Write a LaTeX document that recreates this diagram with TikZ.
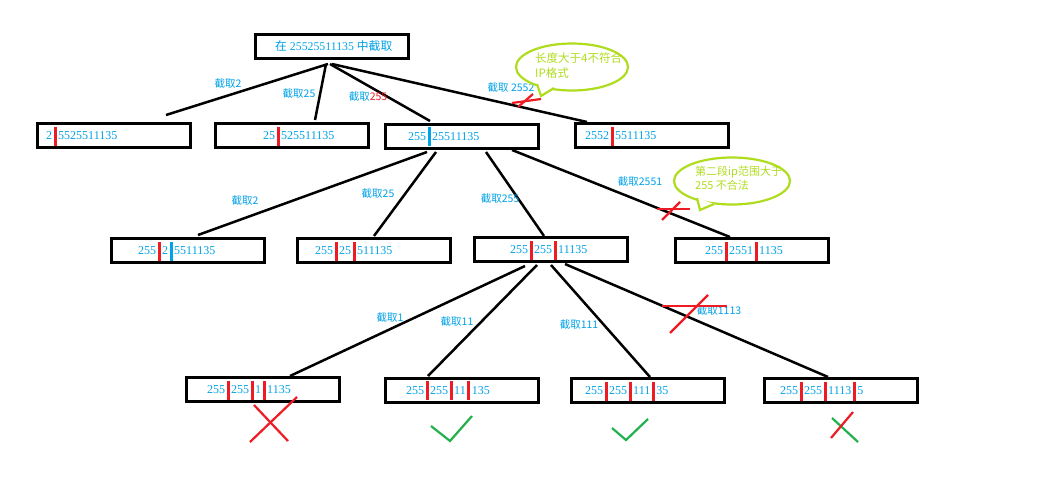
\documentclass[tikz,border=0pt]{standalone}
\usepackage{fontspec}
\setmainfont{Liberation Serif}
\newfontfamily\cjk{Noto Sans CJK SC}
\usetikzlibrary{shapes.geometric}
\definecolor{tblue}{HTML}{00A2E8}
\definecolor{tred}{HTML}{ED1C24}
\definecolor{tgreen}{HTML}{22B14C}
\definecolor{tlime}{HTML}{B0DC1E}
\newcommand\rbar{\hspace{1.6pt}\textcolor{tred}{\rule[-6pt]{2.8pt}{19pt}}\hspace{1.6pt}}
\newcommand\bbar{\hspace{1.6pt}\textcolor{tblue}{\rule[-6pt]{2.8pt}{19pt}}\hspace{1.6pt}}
\tikzset{
  box/.style={draw=black, line width=3pt, minimum width=153pt, minimum height=24pt, inner sep=0pt},
  boxtext/.style={anchor=base west, inner sep=0pt, text=tblue, font=\fontsize{12}{14}\selectfont},
  lbl/.style={inner sep=0pt, text=tblue, font=\cjk\fontsize{10.5}{12}\selectfont},
  edge/.style={draw=black, line width=2.5pt},
  redx/.style={draw=tred, line width=2.2pt},
  grn/.style={draw=tgreen, line width=2.2pt},
  bubble/.style={draw=tlime, line width=2.2pt, ellipse, fill=white, minimum width=112pt, minimum height=47pt, inner sep=0pt},
  btext/.style={anchor=north west, inner sep=0pt, text=tlime, align=left, font=\cjk\fontsize{11.5}{14.5}\selectfont}
}
\begin{document}
\begin{tikzpicture}[x=1pt,y=-1pt]
\useasboundingbox[fill=white] (0,0) rectangle (1037,479);

% boxes
\node[box] (root) at (332,46.5) {};
\node[box] (A) at (114,135.5) {};
\node[box] (B) at (292,135.5) {};
\node[box] (C) at (462,136) {};
\node[box] (D) at (652,135.5) {};
\node[box] (E) at (187.5,250.5) {};
\node[box] (F) at (374,250.5) {};
\node[box] (G) at (551,249.5) {};
\node[box] (H) at (752,250.5) {};
\node[box] (I) at (263,389.5) {};
\node[box] (J) at (462,390) {};
\node[box] (K) at (648,390.5) {};
\node[box] (L) at (841,390.5) {};

% box texts
\node[boxtext, font=\fontsize{11.8}{13}\selectfont] (troot) at (275,50.5) {{\cjk 在} 25525511135 {\cjk 中截取}};
\node[boxtext] (tA) at (46,139.5) {2\rbar 5525511135};
\node[boxtext] (tB) at (263,139.5) {25\rbar 525511135};
\node[boxtext] (tC) at (408,140) {255\bbar 25511135};
\node[boxtext] (tD) at (585,139.5) {2552\rbar 5511135};
\node[boxtext] (tE) at (138,254.5) {255\rbar 2\bbar 5511135};
\node[boxtext] (tF) at (315,254.5) {255\rbar 25\rbar 511135};
\node[boxtext] (tG) at (510,253.5) {255\rbar 255\rbar 11135};
\node[boxtext] (tH) at (705,254.5) {255\rbar 2551\rbar 1135};
\node[boxtext] (tI) at (207,393.5) {255\rbar 255\rbar 1\rbar 1135};
\node[boxtext] (tJ) at (406,394) {255\rbar 255\rbar 11\rbar 135};
\node[boxtext] (tK) at (585,394.5) {255\rbar 255\rbar 111\rbar 35};
\node[boxtext] (tL) at (780,394.5) {255\rbar 255\rbar 1113\rbar 5};

% connector end points
\coordinate (r1) at (328,64);
\coordinate (r2) at (326,64);
\coordinate (r3) at (330,64);
\coordinate (r4) at (332,64);
\coordinate (a1) at (166,115);
\coordinate (b1) at (315,120);
\coordinate (c1) at (430,121);
\coordinate (d1) at (587,122);
\coordinate (c2) at (427,152);
\coordinate (c3) at (436,152);
\coordinate (c4) at (486,152);
\coordinate (c5) at (512,150);
\coordinate (e1) at (198,235);
\coordinate (f1) at (374,236);
\coordinate (g1) at (544,236);
\coordinate (h1) at (730,237);
\coordinate (g2) at (525,266);
\coordinate (g3) at (537,265);
\coordinate (g4) at (551,265);
\coordinate (g5) at (565,264);
\coordinate (i1) at (290,376);
\coordinate (j1) at (428,376);
\coordinate (k1) at (650,377);
\coordinate (l1) at (828,377);

\draw[edge] (r1) -- (a1);
\draw[edge] (r2) -- (b1);
\draw[edge] (r3) -- (c1);
\draw[edge] (r4) -- (d1);
\draw[edge] (c2) -- (e1);
\draw[edge] (c3) -- (f1);
\draw[edge] (c4) -- (g1);
\draw[edge] (c5) -- (h1);
\draw[edge] (g2) -- (i1);
\draw[edge] (g3) -- (j1);
\draw[edge] (g4) -- (k1);
\draw[edge] (g5) -- (l1);

% labels
\node[lbl] (l-a) at (228,84) {截取2};
\node[lbl] (l-b) at (299,94) {截取25};
\node[lbl] (l-c) at (368,97) {截取\textcolor{tred}{255}};
\node[lbl] (l-d) at (511,88) {截取 2552};
\node[lbl] (l-e) at (245,201) {截取2};
\node[lbl] (l-f) at (378,194) {截取25};
\node[lbl] (l-g) at (500,199) {截取255};
\node[lbl] (l-h) at (640,182) {截取2551};
\node[lbl] (l-i) at (390,318) {截取1};
\node[lbl] (l-j) at (457,322) {截取11};
\node[lbl] (l-k) at (579,325) {截取111};
\node[lbl] (l-l) at (719,311) {截取1113};

% red crosses on edges
\draw[redx] (512,103) -- (541,99);
\draw[redx] (518,107) -- (533,94);
\draw[redx] (657,209) -- (690,209);
\draw[redx] (662,220) -- (680,202);
\draw[redx] (662,306) -- (727,306);
\draw[redx] (670,333) -- (708,295);

% bubbles
\node[bubble] (bub1) at (572,67) {};
\draw[draw=tlime, line width=2.2pt, fill=white] (537,84) -- (541,96) -- (554,88);
\node[btext] (bt1) at (535,53) {长度大于4不符合\\IP格式};
\node[bubble, minimum width=116pt] (bub2) at (732,181) {};
\draw[draw=tlime, line width=2.2pt, fill=white] (697,198) -- (700,210) -- (714,204);
\node[btext, font=\cjk\fontsize{11}{14}\selectfont] (bt2) at (695,166) {第二段ip范围大于\\255 不合法};

% verdict marks
\draw[redx] (297,397) -- (250,442);
\draw[redx] (254,405) -- (288,441);
\draw[grn] (431,426) -- (450,441) -- (472,416);
\draw[grn] (612,428) -- (626,440) -- (648,419);
\draw[grn] (832,418) -- (858,442);
\draw[redx] (853,412) -- (831,438);
\end{tikzpicture}
\end{document}
